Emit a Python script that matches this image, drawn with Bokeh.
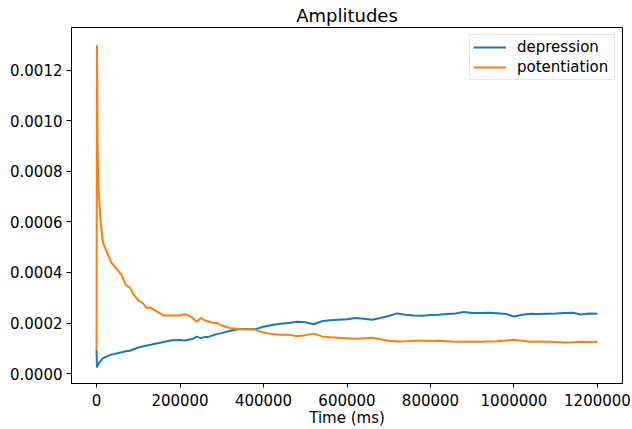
from bokeh.plotting import figure
from bokeh.models import Range1d, FixedTicker, PrintfTickFormatter, NumeralTickFormatter
from bokeh.embed import file_html
from bokeh.resources import INLINE

# ---- data ----
time_ms = [
    0, 1000, 2500, 5000, 7500, 10000, 12500, 15000, 20000, 25000,
    30000, 35000, 40000, 50000, 60000, 70000, 80000, 90000, 100000, 110000,
    120000, 130000, 140000, 150000, 160000,
    180000, 200000, 210000, 220000, 230000, 240000, 250000, 260000, 270000, 280000,
    290000, 300000,
    320000, 340000, 360000, 380000, 400000, 420000, 440000, 460000, 480000, 500000,
    520000, 540000, 560000, 580000, 600000, 620000, 640000, 660000, 680000, 700000,
    720000, 740000, 760000, 780000, 800000, 820000, 840000, 860000, 880000, 900000,
    920000, 940000, 960000, 980000, 1000000, 1020000, 1040000, 1060000, 1080000, 1100000,
    1120000, 1140000, 1160000, 1180000, 1200000,
]

depression = [
    0.000095, 0.000024, 0.000030, 0.000040, 0.000045, 0.000050, 0.000055, 0.000060, 0.000064, 0.000068,
    0.000072, 0.000075, 0.000076, 0.000080, 0.000084, 0.000088, 0.000090, 0.000097, 0.000103, 0.000107,
    0.000111, 0.000114, 0.000118, 0.000121, 0.000125,
    0.000132, 0.000133, 0.000131, 0.000134, 0.000137, 0.000146, 0.000140, 0.000145, 0.000146, 0.000152,
    0.000157, 0.000160,
    0.000169, 0.000175, 0.000176, 0.000175, 0.000185, 0.000192, 0.000197, 0.000200, 0.000205, 0.000203,
    0.000195, 0.000207, 0.000211, 0.000213, 0.000215, 0.000220, 0.000217, 0.000213, 0.000220, 0.000228,
    0.000238, 0.000233, 0.000230, 0.000229, 0.000232, 0.000233, 0.000236, 0.000238, 0.000244, 0.000240,
    0.000240, 0.000241, 0.000239, 0.000236, 0.000226, 0.000233, 0.000237, 0.000236, 0.000237, 0.000238,
    0.000240, 0.000241, 0.000234, 0.000238, 0.000237,
]

potentiation = [
    0.000095, 0.001300, 0.000900, 0.000720, 0.000660, 0.000600, 0.000560, 0.000520, 0.000500, 0.000480,
    0.000460, 0.000440, 0.000430, 0.000410, 0.000390, 0.000350, 0.000340, 0.000310, 0.000290, 0.000280,
    0.000260, 0.000260, 0.000250, 0.000240, 0.000230,
    0.000230, 0.000230, 0.000235, 0.000230, 0.000220, 0.000205, 0.000220, 0.000210, 0.000205, 0.000200,
    0.000200, 0.000190,
    0.000180, 0.000176, 0.000175, 0.000174, 0.000162, 0.000156, 0.000154, 0.000154, 0.000148, 0.000152,
    0.000158, 0.000147, 0.000144, 0.000142, 0.000140, 0.000138, 0.000140, 0.000142, 0.000136, 0.000130,
    0.000127, 0.000128, 0.000130, 0.000130, 0.000129, 0.000130, 0.000128, 0.000126, 0.000126, 0.000127,
    0.000126, 0.000127, 0.000128, 0.000131, 0.000134, 0.000130, 0.000126, 0.000127, 0.000126, 0.000125,
    0.000123, 0.000124, 0.000126, 0.000125, 0.000126,
]

x_ticks = [0, 200000, 400000, 600000, 800000, 1000000, 1200000]
y_ticks = [0.0, 0.0002, 0.0004, 0.0006, 0.0008, 0.0010, 0.0012]

FONT = "DejaVu Sans"

p = figure(
    width=632, height=429,
    output_backend="svg", toolbar_location=None,
    x_range=Range1d(-60000, 1260000),
    y_range=Range1d(-0.0000395, 0.00137),
    min_border_left=71, min_border_right=10, min_border_top=27, min_border_bottom=45,
    title="Amplitudes",
)

p.title.align = "center"
p.title.text_font = FONT
p.title.text_font_size = "18px"
p.title.text_font_style = "normal"
p.title.text_color = "black"
p.title.standoff = 4
p.title.offset = 0

p.line(time_ms, depression, line_color="#1f77b4", line_width=2, legend_label="depression")
p.line(time_ms, potentiation, line_color="#ff7f0e", line_width=2, legend_label="potentiation")

p.xgrid.visible = False
p.ygrid.visible = False
p.outline_line_color = "black"
p.outline_line_width = 1
p.background_fill_color = "white"
p.border_fill_color = "white"

for ax in (p.xaxis[0], p.yaxis[0]):
    ax.axis_line_color = "black"
    ax.major_tick_line_color = "black"
    ax.major_tick_in = 0
    ax.minor_tick_line_color = None
    ax.major_label_text_font = FONT
    ax.major_label_text_font_size = "15px"
    ax.major_label_text_color = "black"

p.xaxis[0].major_tick_out = 4
p.xaxis[0].major_label_standoff = 6
p.yaxis[0].major_tick_out = 5
p.yaxis[0].major_label_standoff = 4

p.xaxis[0].ticker = FixedTicker(ticks=x_ticks)
p.xaxis[0].formatter = NumeralTickFormatter(format="0")
p.yaxis[0].ticker = FixedTicker(ticks=y_ticks)
p.yaxis[0].formatter = PrintfTickFormatter(format="%.4f")

p.xaxis[0].axis_label = "Time (ms)"
p.xaxis[0].axis_label_text_font = FONT
p.xaxis[0].axis_label_text_font_size = "15px"
p.xaxis[0].axis_label_text_font_style = "normal"
p.xaxis[0].axis_label_text_color = "black"
p.xaxis[0].axis_label_standoff = 0

lg = p.legend[0]
lg.location = "top_right"
lg.margin = 7
lg.padding = 3
lg.spacing = 2
lg.label_height = 18
lg.glyph_height = 18
lg.glyph_width = 33
lg.label_standoff = 11
lg.label_width = 94
lg.label_text_font = FONT
lg.label_text_font_size = "15px"
lg.label_text_color = "black"
lg.border_line_color = "#cccccc"
lg.border_line_width = 1
lg.background_fill_color = "white"
lg.background_fill_alpha = 0.8

open("out.html", "w").write(file_html(p, INLINE))
